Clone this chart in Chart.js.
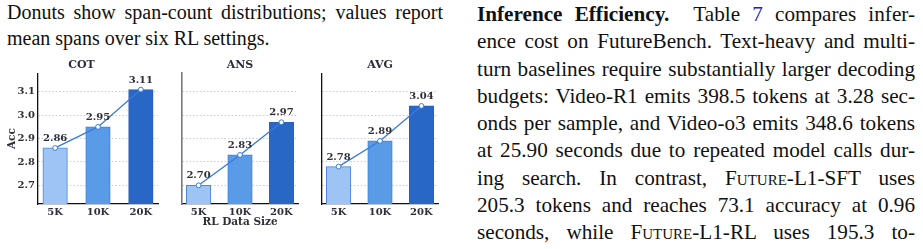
<!DOCTYPE html>
<html>
<head>
<meta charset="utf-8">
<script src="https://cdn.jsdelivr.net/npm/chart.js@4.4.1/dist/chart.umd.min.js"></script>
<style>
  body { margin: 0; width: 923px; height: 249px; background: #fff; position: relative; overflow: hidden; }
  .texte { position: absolute; font-family: "Liberation Serif", serif; color: #111; }
  .ligne { white-space: nowrap; text-align: justify; text-align-last: justify; }
  .ligne.fin { text-align-last: left; }
  canvas { position: absolute; top: 56px; }
  .sc { font-variant: small-caps; }
</style>
</head>
<body>

<div class="texte" style="left:7px; top:-1px; width:436px; font-size:20px; line-height:26px;">
  <div class="ligne">Donuts show span-count distributions; values report</div>
  <div class="ligne fin">mean spans over six RL settings.</div>
</div>

<canvas id="graphCot" width="163" height="180" style="left:0; width:163px; height:180px;"></canvas>
<canvas id="graphAns" width="126" height="180" style="left:177px; width:126px; height:180px;"></canvas>
<canvas id="graphAvg" width="126" height="180" style="left:317px; width:126px; height:180px;"></canvas>

<div class="texte" style="left:477px; top:1px; width:438px; font-size:21.2px; line-height:27.3px;">
  <div class="ligne"><b>Inference Efficiency.</b>&nbsp; Table <span style="color:#2222aa">7</span> compares infer-</div>
  <div class="ligne">ence cost on FutureBench. Text-heavy and multi-</div>
  <div class="ligne">turn baselines require substantially larger decoding</div>
  <div class="ligne">budgets: Video-R1 emits 398.5 tokens at 3.28 sec-</div>
  <div class="ligne">onds per sample, and Video-o3 emits 348.6 tokens</div>
  <div class="ligne">at 25.90 seconds due to repeated model calls dur-</div>
  <div class="ligne">ing search. In contrast, <span class="sc">Future</span>-L1-SFT uses</div>
  <div class="ligne">205.3 tokens and reaches 73.1 accuracy at 0.96</div>
  <div class="ligne">seconds, while <span class="sc">Future</span>-L1-RL uses 195.3 to-</div>
</div>

<script>
// données
const categories = ['5K', '10K', '20K'];
const titres = ['COT', 'ANS', 'AVG'];
const valeursCot = [2.86, 2.95, 3.11];
const valeursAns = [2.70, 2.83, 2.97];
const valeursAvg = [2.78, 2.89, 3.04];
const graduationsY = [2.7, 2.8, 2.9, 3.0, 3.1];

const couleursBarres = ['#9dc4f4', '#5a9be7', '#2967c7'];
const bordsBarres = ['#4a86da', '#3f80dc', '#2a60bd'];
const couleurLigne = '#3a7bd6';
const couleurTexte = '#2e2e3a';

Chart.defaults.font.family = '"DejaVu Serif", serif';
Chart.defaults.font.weight = 'bold';
Chart.defaults.color = couleurTexte;

// étiquettes de valeur au-dessus des barres
const etiquettesValeurs = {
    id: 'etiquettesValeurs',
    afterDatasetsDraw(chart) {
        const ctx = chart.ctx;
        const meta = chart.getDatasetMeta(0);
        const donnees = chart.data.datasets[0].data;
        ctx.save();
        ctx.font = 'bold 10px "DejaVu Serif"';
        ctx.fillStyle = couleurTexte;
        ctx.textAlign = 'center';
        ctx.textBaseline = 'middle';
        meta.data.forEach((barre, i) => {
            ctx.fillText(donnees[i].y.toFixed(2), barre.x, barre.y - 9.5);
        });
        ctx.restore();
    }
};

function creerPanneau(id, titre, valeurs, options) {
    const points = valeurs.map((v, i) => ({ x: i, y: v }));
    return new Chart(document.getElementById(id), {
        type: 'bar',
        data: {
            datasets: [{
                type: 'bar',
                data: points,
                backgroundColor: couleursBarres,
                borderColor: bordsBarres,
                borderWidth: 1,
                borderSkipped: false,
                barThickness: 24.5,
                order: 1
            }, {
                type: 'line',
                data: points,
                borderColor: couleurLigne,
                borderWidth: 1.3,
                pointRadius: 2.4,
                pointBackgroundColor: '#ffffff',
                pointBorderColor: couleurLigne,
                pointBorderWidth: 1,
                order: 0
            }]
        },
        options: {
            responsive: false,
            animation: false,
            layout: { padding: 0 },
            plugins: {
                legend: { display: false },
                tooltip: { enabled: false },
                title: {
                    display: true,
                    text: titre,
                    font: { size: 11, weight: 'bold' },
                    color: couleurTexte,
                    padding: { top: 3, bottom: 1 }
                }
            },
            scales: {
                x: {
                    type: 'linear',
                    offset: false,
                    min: -0.4,
                    max: 2.4,
                    afterBuildTicks: s => { s.ticks = categories.map((c, i) => ({ value: i })); },
                    afterFit: s => { s.height = 32; s.paddingLeft = 0; s.paddingRight = 0; },
                    grid: { display: false, offset: false, drawTicks: false },
                    border: { display: true, color: '#111', width: 1.3 },
                    ticks: {
                        padding: 2,
                        autoSkip: false,
                        maxRotation: 0,
                        font: { size: 10, weight: 'bold' },
                        callback: v => categories[v]
                    },
                    title: {
                        display: options.titreX,
                        text: 'RL Data Size',
                        font: { size: 10.5, weight: 'bold' },
                        padding: { top: 0, bottom: 7.5 }
                    }
                },
                y: {
                    min: 2.62,
                    max: 3.18,
                    afterBuildTicks: s => { s.ticks = graduationsY.map(v => ({ value: v })); },
                    afterFit: s => { s.width = options.largeurY; s.paddingTop = 0; s.paddingBottom = 0; },
                    grid: { color: '#c6c9e6', lineWidth: 1, drawTicks: false },
                    border: { display: true, color: options.couleurAxe, width: options.epaisseurAxe, dash: [1.5, 2] },
                    ticks: {
                        display: options.graduations,
                        padding: 3,
                        font: { size: 10, weight: 'bold' },
                        callback: v => v.toFixed(1)
                    },
                    title: {
                        display: options.graduations,
                        text: 'Acc',
                        font: { size: 10.5, weight: 'bold' },
                        padding: { top: 5.5, bottom: 0 }
                    }
                }
            }
        },
        plugins: [etiquettesValeurs]
    });
}

creerPanneau('graphCot', titres[0], valeursCot, { largeurY: 38, graduations: true, titreX: false, couleurAxe: '#111', epaisseurAxe: 1.3 });
creerPanneau('graphAns', titres[1], valeursAns, { largeurY: 0, graduations: false, titreX: true, couleurAxe: '#777', epaisseurAxe: 1.6 });
creerPanneau('graphAvg', titres[2], valeursAvg, { largeurY: 0, graduations: false, titreX: false, couleurAxe: '#111', epaisseurAxe: 1.3 });
</script>
</body>
</html>
